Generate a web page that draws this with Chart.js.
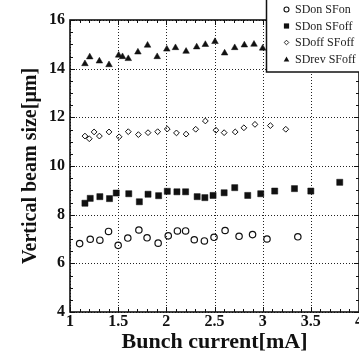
<!DOCTYPE html>
<html>
<head>
<meta charset="utf-8">
<script src="https://cdn.jsdelivr.net/npm/chart.js@4/dist/chart.umd.min.js"></script>
<style>
html,body{margin:0;padding:0;background:#fff;overflow:hidden;}
canvas{display:block;}
</style>
</head>
<body>
<canvas id="c" width="359" height="353"></canvas>
<script>
// ---- data ----
const seriesNames = ["SDon SFon", "SDon SFoff", "SDoff SFoff", "SDrev SFoff"];

const sdonSfonX = [1.10,1.21,1.31,1.40,1.50,1.60,1.715,1.80,1.915,2.02,2.115,2.20,2.29,2.395,2.495,2.61,2.755,2.895,3.045,3.365];
const sdonSfonY = [6.81,6.99,6.95,7.31,6.74,7.04,7.37,7.05,6.83,7.13,7.33,7.33,6.97,6.92,7.07,7.35,7.11,7.18,7.00,7.09];

const sdonSfoffX = [1.155,1.21,1.31,1.41,1.48,1.61,1.72,1.81,1.92,2.01,2.11,2.20,2.32,2.40,2.485,2.60,2.71,2.845,2.98,3.125,3.33,3.50,3.80];
const sdonSfoffY = [8.47,8.67,8.74,8.66,8.89,8.86,8.53,8.84,8.78,8.96,8.94,8.94,8.74,8.70,8.79,8.90,9.11,8.79,8.86,8.97,9.07,8.97,9.33];

const sdoffSfoffX = [1.155,1.20,1.25,1.305,1.405,1.51,1.605,1.71,1.81,1.91,2.01,2.105,2.205,2.305,2.405,2.515,2.60,2.715,2.805,2.92,3.08,3.24];
const sdoffSfoffY = [11.23,11.12,11.40,11.23,11.40,11.20,11.41,11.29,11.37,11.41,11.52,11.36,11.31,11.51,11.85,11.47,11.37,11.40,11.57,11.71,11.66,11.51];

const sdrevSfoffX = [1.155,1.205,1.305,1.405,1.505,1.545,1.605,1.705,1.805,1.905,2.005,2.095,2.205,2.315,2.405,2.505,2.605,2.71,2.81,2.91,3.00];
const sdrevSfoffY = [14.20,14.48,14.31,14.16,14.55,14.49,14.41,14.68,14.96,14.49,14.80,14.86,14.71,14.89,14.99,15.11,14.64,14.86,14.97,15.00,14.84];

const xTicks = [1, 1.5, 2, 2.5, 3, 3.5, 4];
const yTicks = [4, 6, 8, 10, 12, 14, 16];
const xTitle = "Bunch current[mA]";
const yTitle = "Vertical beam size[\u03bcm]";

// ---- helpers ----
function pts(xs, ys){ return xs.map((x,i)=>({x:x, y:ys[i]})); }
const FONT = "'Liberation Serif','Times New Roman',serif";

const styles = [
  {pointStyle:'circle',   radius:3.2, fill:'rgba(0,0,0,0)', bw:1.2},
  {pointStyle:'rect',     radius:4.3, fill:'#111',          bw:0.5},
  {pointStyle:'rectRot',  radius:2.9, fill:'rgba(0,0,0,0)', bw:1},
  {pointStyle:'triangle', radius:3.8, fill:'#111',          bw:0.5}
];
const allX = [sdonSfonX, sdonSfoffX, sdoffSfoffX, sdrevSfoffX];
const allY = [sdonSfonY, sdonSfoffY, sdoffSfoffY, sdrevSfoffY];

const datasets = seriesNames.map((n,i)=>({
  label: n,
  data: pts(allX[i], allY[i]),
  pointStyle: styles[i].pointStyle,
  pointRadius: styles[i].radius,
  pointHoverRadius: styles[i].radius,
  pointBackgroundColor: styles[i].fill,
  pointBorderColor: '#111',
  pointBorderWidth: styles[i].bw,
  showLine: false
}));

// grid, frame, inward ticks, legend
const framePlugin = {
  id: 'frame',
  beforeDatasetsDraw(chart){
    const {ctx, chartArea:a, scales:{x, y}} = chart;
    ctx.save();
    ctx.strokeStyle = '#222';
    ctx.lineWidth = 1;
    ctx.setLineDash([1, 2]);
    ctx.beginPath();
    xTicks.forEach(v=>{
      const px = Math.round(x.getPixelForValue(v)) + 0.5;
      ctx.moveTo(px, a.top); ctx.lineTo(px, a.bottom);
    });
    yTicks.forEach(v=>{
      const py = Math.round(y.getPixelForValue(v)) + 0.5;
      ctx.moveTo(a.left, py); ctx.lineTo(a.right, py);
    });
    ctx.stroke();
    ctx.restore();
  },
  afterDatasetsDraw(chart){
    const {ctx, chartArea:a, scales:{x, y}} = chart;
    ctx.save();
    ctx.strokeStyle = '#111';
    ctx.lineWidth = 1;
    ctx.beginPath();
    for (let v = 1; v <= 4.0001; v += 0.1) {
      const px = Math.round(x.getPixelForValue(v)) + 0.5;
      const major = Math.abs(v*2 - Math.round(v*2)) < 1e-6;
      const L = major ? 5 : 3;
      ctx.moveTo(px, a.bottom); ctx.lineTo(px, a.bottom - L);
      ctx.moveTo(px, a.top); ctx.lineTo(px, a.top + L);
    }
    for (let v = 4; v <= 16.0001; v += 0.5) {
      const py = Math.round(y.getPixelForValue(v)) + 0.5;
      const major = Math.abs(v/2 - Math.round(v/2)) < 1e-6;
      const L = major ? 5 : 3;
      ctx.moveTo(a.left, py); ctx.lineTo(a.left + L, py);
      ctx.moveTo(a.right, py); ctx.lineTo(a.right - L, py);
    }
    ctx.stroke();
    ctx.lineWidth = 1.6;
    ctx.strokeRect(a.left, a.top, a.right - a.left, a.bottom - a.top);
    ctx.restore();
  },
  afterDraw(chart){
    const ctx = chart.ctx;
    ctx.save();
    const bx = 266.5, by = -5, bw = 100, bh = 77;
    ctx.fillStyle = '#fff';
    ctx.fillRect(bx, by, bw, bh);
    ctx.strokeStyle = '#111';
    ctx.lineWidth = 1.5;
    ctx.strokeRect(bx, by, bw, bh);
    const rows = [9.5, 26, 42.5, 59.5];
    const mx = 286.5, tx = 295;
    ctx.font = "12px " + FONT;
    ctx.textBaseline = 'middle';
    ctx.textAlign = 'left';
    seriesNames.forEach((n,i)=>{
      const yy = rows[i];
      ctx.fillStyle = '#111';
      ctx.strokeStyle = '#111';
      ctx.lineWidth = 1.1;
      ctx.beginPath();
      if (i === 0) { ctx.arc(mx, yy, 2.5, 0, Math.PI*2); ctx.stroke(); }
      else if (i === 1) { ctx.fillRect(mx-2.6, yy-2.6, 5.2, 5.2); }
      else if (i === 2) { ctx.moveTo(mx, yy-2.3); ctx.lineTo(mx+2.3, yy); ctx.lineTo(mx, yy+2.3); ctx.lineTo(mx-2.3, yy); ctx.closePath(); ctx.lineWidth=0.9; ctx.stroke(); }
      else { ctx.moveTo(mx, yy-3); ctx.lineTo(mx+2.8, yy+2); ctx.lineTo(mx-2.8, yy+2); ctx.closePath(); ctx.fill(); }
      ctx.fillStyle = '#222';
      ctx.fillText(n, tx, yy + 0.5);
    });
    ctx.restore();
  }
};

new Chart(document.getElementById('c'), {
  type: 'scatter',
  data: { datasets: datasets },
  options: {
    responsive: false,
    animation: false,
    events: [],
    layout: { autoPadding: false, padding: { top: 20, right: -1, bottom: 0, left: 0 } },
    plugins: { legend: { display: false }, tooltip: { enabled: false } },
    scales: {
      x: {
        type: 'linear',
        min: 1, max: 4,
        afterBuildTicks(scale){ scale.ticks = xTicks.map(v=>({value:v})); },
        afterFit(scale){ scale.height = 41; scale.paddingLeft = 0; scale.paddingRight = 0; },
        ticks: {
          color: '#111', padding: 0, maxRotation: 0, autoSkip: false,
          font: { family: FONT, size: 16, weight: 'bold', lineHeight: 1.2 },
          callback: v => String(v)
        },
        grid: { display: false, drawTicks: false },
        border: { display: false },
        title: {
          display: true, text: xTitle, color: '#111',
          font: { family: FONT, size: 22, weight: 'bold', lineHeight: 1 },
          padding: { top: 0, bottom: 0 }
        }
      },
      y: {
        type: 'linear',
        min: 4, max: 16,
        afterBuildTicks(scale){ scale.ticks = yTicks.map(v=>({value:v})); },
        afterFit(scale){ scale.width = 70; scale.paddingTop = 0; scale.paddingBottom = 0; },
        ticks: {
          color: '#111', padding: 5,
          font: { family: FONT, size: 16, weight: 'bold' },
          callback: v => String(v)
        },
        grid: { display: false, drawTicks: false },
        border: { display: false },
        title: {
          display: true, text: yTitle, color: '#111',
          font: { family: FONT, size: 20, weight: 'bold', lineHeight: 1.2 },
          padding: { top: 19, bottom: 0 }
        }
      }
    }
  },
  plugins: [framePlugin]
});
</script>
</body>
</html>
